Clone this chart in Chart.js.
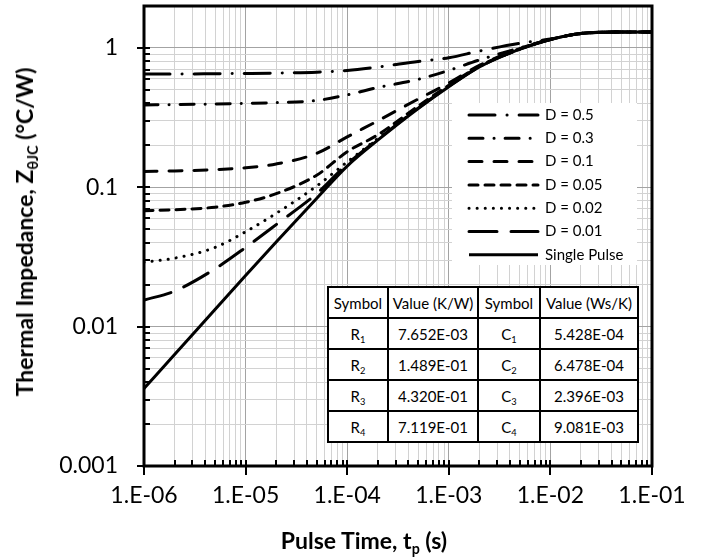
<!DOCTYPE html>
<html lang="en">
<head>
  <meta charset="UTF-8">
  <title>Transient Thermal Impedance</title>
  <script src="https://cdn.jsdelivr.net/npm/chart.js"></script>
  <style>
    body { margin: 0; background: #fff; font-family: Lato, sans-serif; color: #000; }
    #wrap { position: relative; width: 712px; height: 560px; }
    #yTitle {
      position: absolute; left: 24px; top: 232px;
      transform: translate(-50%, -50%) rotate(-90deg);
      white-space: nowrap; font-weight: bold; font-size: 23px;
    }
    #xTitle {
      position: absolute; left: 364px; top: 540px;
      transform: translate(-50%, -50%);
      white-space: nowrap; font-weight: bold; font-size: 23px;
    }
    sub { font-size: 0.62em; vertical-align: -0.35em; line-height: 0; }
    #rcTable {
      position: absolute; left: 327px; top: 286px; width: 310px;
      border-collapse: collapse; table-layout: fixed; background: #fff;
      font-size: 15px;
    }
    #rcTable td { border: 2px solid #000; height: 29px; padding: 0; text-align: center; }
  </style>
</head>
<body>
  <div id="wrap">
    <canvas id="zthChart" width="712" height="560"></canvas>
    <div id="yTitle">Thermal Impedance, Z<sub>θJC</sub> (°C/W)</div>
    <div id="xTitle">Pulse Time, t<sub>p</sub> (s)</div>
    <table id="rcTable">
      <colgroup><col style="width:60px"><col style="width:90px"><col style="width:62px"><col style="width:98px"></colgroup>
      <tbody id="rcBody"></tbody>
    </table>
  </div>

  <script>
    // pulse times (s) where the curves were read
    const pulseTimes = [1e-6, 2e-6, 5e-6, 1e-5, 2e-5, 5e-5, 1e-4, 2e-4, 5e-4, 1e-3, 2e-3, 5e-3, 1e-2, 2e-2, 5e-2, 1e-1];

    // Zth (°C/W) for each duty cycle
    const zD05   = [0.65, 0.65, 0.653, 0.656, 0.66, 0.67, 0.69, 0.73, 0.80, 0.85, 0.95, 1.08, 1.16, 1.27, 1.30, 1.30];
    const zD03   = [0.39, 0.392, 0.396, 0.40, 0.405, 0.42, 0.46, 0.52, 0.595, 0.69, 0.82, 1.00, 1.15, 1.27, 1.30, 1.30];
    const zD01   = [0.13, 0.131, 0.134, 0.138, 0.147, 0.175, 0.23, 0.30, 0.43, 0.56, 0.75, 0.99, 1.15, 1.27, 1.30, 1.30];
    const zD005  = [0.068, 0.069, 0.072, 0.078, 0.09, 0.122, 0.18, 0.238, 0.383, 0.54, 0.74, 0.98, 1.15, 1.27, 1.30, 1.30];
    const zD002  = [0.029, 0.031, 0.037, 0.048, 0.065, 0.102, 0.152, 0.224, 0.372, 0.533, 0.735, 0.98, 1.15, 1.27, 1.30, 1.30];
    const zD001  = [0.0155, 0.018, 0.026, 0.037, 0.054, 0.09, 0.147, 0.221, 0.37, 0.53, 0.732, 0.98, 1.15, 1.27, 1.30, 1.30];
    const zSingle = [0.0036, 0.0063, 0.0133, 0.0233, 0.0405, 0.083, 0.142, 0.218, 0.368, 0.527, 0.73, 0.98, 1.15, 1.27, 1.30, 1.30];

    const seriesLabels = ['D = 0.5', 'D = 0.3', 'D = 0.1', 'D = 0.05', 'D = 0.02', 'D = 0.01', 'Single Pulse'];

    // axis decades and their labels
    const xDecades = [1e-6, 1e-5, 1e-4, 1e-3, 1e-2, 1e-1];
    const xTickLabels = ['1.E-06', '1.E-05', '1.E-04', '1.E-03', '1.E-02', '1.E-01'];
    const yDecades = [0.001, 0.01, 0.1, 1];
    const yTickLabels = ['0.001', '0.01', '0.1', '1'];

    // Foster RC network table
    const rSymbols = ['R', 'R', 'R', 'R'];
    const rValues = ['7.652E-03', '1.489E-01', '4.320E-01', '7.119E-01'];
    const cSymbols = ['C', 'C', 'C', 'C'];
    const cValues = ['5.428E-04', '6.478E-04', '2.396E-03', '9.081E-03'];

    // fill the table
    const body = document.getElementById('rcBody');
    let html = '<tr><td>Symbol</td><td>Value (K/W)</td><td>Symbol</td><td>Value (Ws/K)</td></tr>';
    for (let i = 0; i < rValues.length; i++) {
      html += '<tr><td>' + rSymbols[i] + '<sub>' + (i + 1) + '</sub></td><td>' + rValues[i] +
              '</td><td>' + cSymbols[i] + '<sub>' + (i + 1) + '</sub></td><td>' + cValues[i] + '</td></tr>';
    }
    body.innerHTML = html;

    function logTicks(decades) {
      const ticks = [];
      decades.forEach((d, i) => {
        ticks.push({ value: d, major: true });
        if (i < decades.length - 1) {
          for (let m = 2; m <= 9; m++) ticks.push({ value: m * d, major: false });
        }
      });
      return ticks;
    }

    function series(label, values, dash, cap) {
      return {
        label: label,
        data: pulseTimes.map((t, i) => ({ x: t, y: values[i] })),
        borderColor: '#000',
        borderWidth: 3,
        borderDash: dash,
        borderCapStyle: cap,
        pointRadius: 0,
        cubicInterpolationMode: 'monotone',
        fill: false
      };
    }

    const datasets = [
      series(seriesLabels[0], zD05, [26, 12, 0.1, 12], 'round'),
      series(seriesLabels[1], zD03, [14, 11, 0.1, 11], 'round'),
      series(seriesLabels[2], zD01, [13, 12], 'round'),
      series(seriesLabels[3], zD005, [9, 7], 'round'),
      series(seriesLabels[4], zD002, [0.1, 8], 'round'),
      series(seriesLabels[5], zD001, [28, 14], 'round'),
      series(seriesLabels[6], zSingle, [], 'butt')
    ];

    // legend drawn inside the plot area
    const insideLegend = {
      id: 'insideLegend',
      afterDatasetsDraw(chart) {
        const { ctx, chartArea: a } = chart;
        const left = a.right - 200, top = a.top + 97;
        ctx.save();
        ctx.fillStyle = '#fff';
        ctx.fillRect(left, top, 185, 162);
        ctx.font = '15px Lato';
        ctx.textBaseline = 'middle';
        chart.data.datasets.forEach((ds, i) => {
          const y = top + 12 + i * 23.3;
          ctx.strokeStyle = ds.borderColor;
          ctx.lineWidth = ds.borderWidth;
          ctx.lineCap = ds.borderCapStyle;
          ctx.setLineDash(ds.borderDash);
          ctx.beginPath();
          ctx.moveTo(left + 17, y);
          ctx.lineTo(left + 86, y);
          ctx.stroke();
          ctx.setLineDash([]);
          ctx.fillStyle = '#000';
          ctx.fillText(ds.label, left + 93, y);
        });
        ctx.restore();
      }
    };

    // tick marks and the plot frame
    const frameTicks = {
      id: 'frameTicks',
      afterDatasetsDraw(chart) {
        const { ctx, chartArea: a, scales } = chart;
        ctx.save();
        ctx.strokeStyle = '#000';
        ctx.lineWidth = 2;
        ctx.lineCap = 'butt';
        scales.x.ticks.forEach(t => {
          const px = Math.round(scales.x.getPixelForValue(t.value));
          ctx.beginPath();
          ctx.moveTo(px, a.bottom - 6);
          ctx.lineTo(px, t.major ? a.bottom + 9 : a.bottom);
          ctx.stroke();
        });
        scales.y.ticks.forEach(t => {
          const py = Math.round(scales.y.getPixelForValue(t.value));
          ctx.beginPath();
          ctx.moveTo(t.major ? a.left - 7 : a.left, py);
          ctx.lineTo(a.left + 6, py);
          ctx.stroke();
        });
        ctx.lineWidth = 3;
        ctx.strokeRect(a.left, a.top, a.width, a.height);
        ctx.restore();
      }
    };

    Chart.defaults.font.family = 'Lato';
    Chart.defaults.color = '#000';

    new Chart(document.getElementById('zthChart'), {
      type: 'line',
      data: { datasets: datasets },
      options: {
        responsive: false,
        animation: false,
        layout: { padding: { top: 6, right: 60, left: 0, bottom: 0 } },
        plugins: { legend: { display: false }, tooltip: { enabled: false } },
        scales: {
          x: {
            type: 'logarithmic',
            min: 1e-6,
            max: 1e-1,
            afterBuildTicks: s => { s.ticks = logTicks(xDecades); },
            afterFit: s => { s.height = 94; s.paddingLeft = 0; s.paddingRight = 0; },
            border: { display: false },
            grid: {
              drawTicks: false,
              color: c => (c.tick && c.tick.major) ? '#a3a3a3' : '#d2d2d2'
            },
            ticks: {
              autoSkip: false,
              maxRotation: 0,
              padding: 16,
              font: { size: 23 },
              callback: function (value, index, ticks) {
                const i = xDecades.indexOf(ticks[index].value);
                return i >= 0 ? xTickLabels[i] : '';
              }
            }
          },
          y: {
            type: 'logarithmic',
            min: 0.001,
            max: 2,
            afterBuildTicks: s => { s.ticks = logTicks(yDecades); },
            afterFit: s => { s.width = 144; s.paddingTop = 0; s.paddingBottom = 0; },
            border: { display: false },
            grid: {
              drawTicks: false,
              color: c => (c.tick && c.tick.major) ? '#a3a3a3' : '#d2d2d2'
            },
            ticks: {
              autoSkip: false,
              padding: 26,
              font: { size: 23 },
              callback: function (value, index, ticks) {
                const i = yDecades.indexOf(ticks[index].value);
                return i >= 0 ? yTickLabels[i] : '';
              }
            }
          }
        }
      },
      plugins: [insideLegend, frameTicks]
    });
  </script>
</body>
</html>
